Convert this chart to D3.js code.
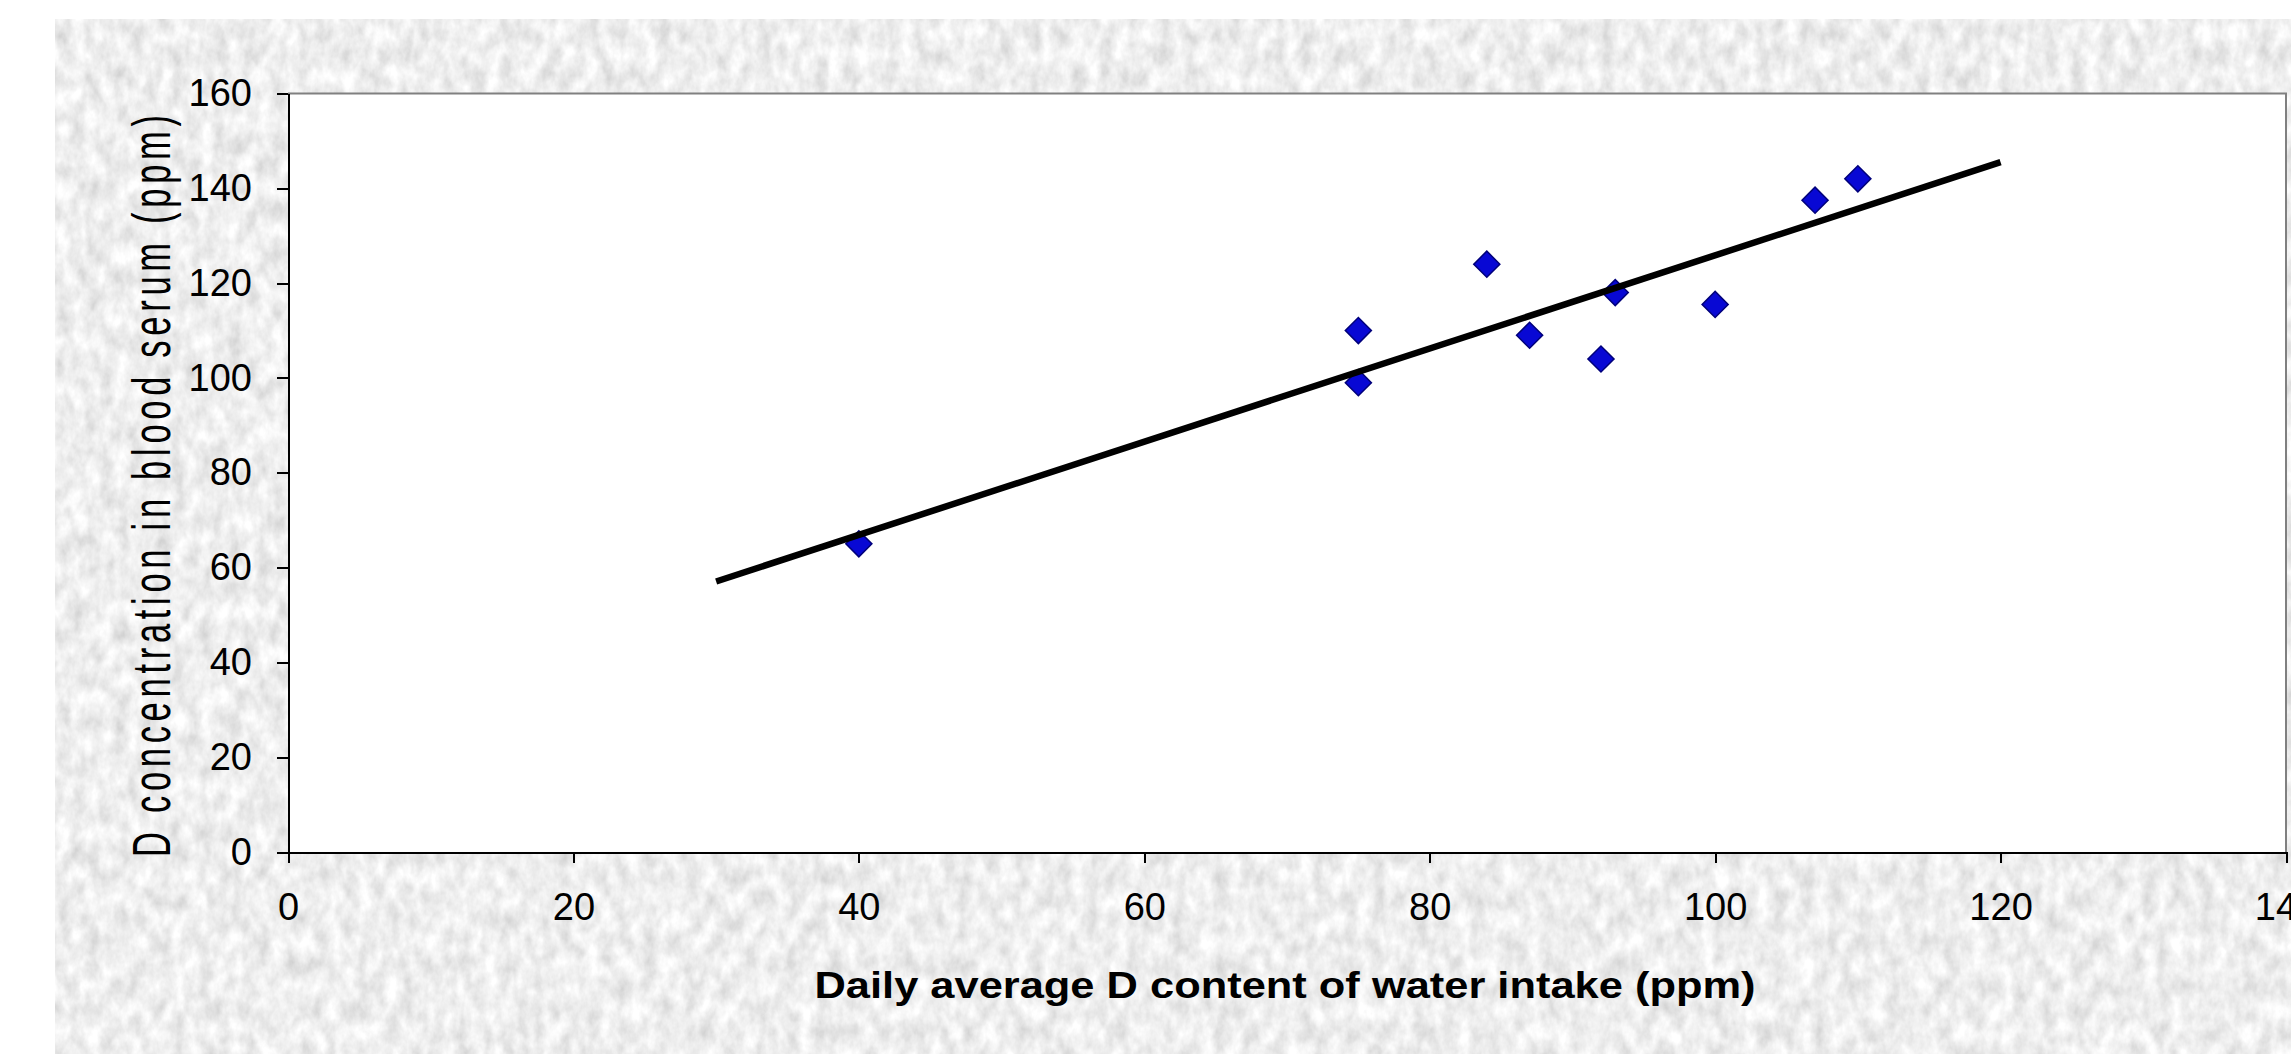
<!DOCTYPE html>
<html>
<head>
<meta charset="utf-8">
<title>D concentration in blood serum vs water intake</title>
<script src="https://cdn.jsdelivr.net/npm/d3@7"></script>
<style>
  html, body { margin: 0; padding: 0; background: #fff; }
  svg { display: block; font-family: "Liberation Sans", Arial, sans-serif; }
  .axis path, .axis line { stroke: #000; stroke-width: 2; shape-rendering: crispEdges; }
  .axis text { fill: #000; font-size: 38px; }
</style>
</head>
<body>
<div id="chart"></div>
<script>
// data
var intakeD = [40, 75, 75, 84, 87, 92, 93, 100, 107, 110];
var serumD = [65, 110, 99, 124, 109, 104, 118, 115.5, 137.5, 142];
var trendRange = [30, 120];
var xTicks = [0, 20, 40, 60, 80, 100, 120, 140];
var yTicks = [0, 20, 40, 60, 80, 100, 120, 140, 160];
var xTitle = 'Daily average D content of water intake (ppm)';
var yTitle = 'D concentration in blood serum (ppm)';

var width = 2291;
var height = 1054;

// plot area
var margin = { top: 93.5, right: 5, bottom: 202, left: 288 };
var w = width - margin.left - margin.right;
var h = height - margin.top - margin.bottom;

var xScale = d3.scaleLinear().domain([0, 140]).range([0, w]);
var yScale = d3.scaleLinear().domain([0, 160]).range([h, 0]);

var svg = d3.select('#chart').append('svg')
  .attr('width', width).attr('height', height);

// textured grey backdrop
var defs = svg.append('defs');
var f = defs.append('filter').attr('id', 'paper')
  .attr('x', 0).attr('y', 0).attr('width', 1).attr('height', 1);
f.append('feTurbulence').attr('type', 'fractalNoise')
  .attr('baseFrequency', '0.07 0.045').attr('numOctaves', 4).attr('seed', 5);
f.append('feColorMatrix').attr('type', 'matrix')
  .attr('values', '0.5 0 0 0 0.61  0.5 0 0 0 0.61  0.5 0 0 0 0.61  0 0 0 0 1');

svg.append('rect')
  .attr('x', 55).attr('y', 19)
  .attr('width', width - 55).attr('height', height - 19)
  .attr('fill', '#dadada')
  .attr('filter', 'url(#paper)');

var g = svg.append('g')
  .attr('transform', 'translate(' + margin.left + ',' + margin.top + ')');

// white plot area with grey top/right border
g.append('rect').attr('width', w).attr('height', h).attr('fill', '#fff');
g.append('path')
  .attr('d', 'M0,0H' + w + 'V' + h)
  .attr('fill', 'none').attr('stroke', '#808080').attr('stroke-width', 2);

// axes
g.append('g').attr('class', 'axis xaxis')
  .attr('transform', 'translate(0,' + h + ')')
  .call(d3.axisBottom(xScale).tickValues(xTicks).tickSize(11).tickSizeOuter(0).tickPadding(30));

g.append('g').attr('class', 'axis yaxis')
  .call(d3.axisLeft(yScale).tickValues(yTicks).tickSize(11).tickSizeOuter(0).tickPadding(25));

// data points (blue diamonds)
var pts = d3.zip(intakeD, serumD);
g.append('g').selectAll('path')
  .data(pts)
  .enter().append('path')
  .attr('d', d3.symbol().type(d3.symbolSquare).size(340))
  .attr('transform', function(d) {
    return 'translate(' + xScale(d[0]) + ',' + yScale(d[1]) + ') rotate(45)';
  })
  .attr('fill', '#0808d4')
  .attr('stroke', '#00007a')
  .attr('stroke-width', 1.5);

// linear trend line (least squares on the points)
var mx = d3.mean(intakeD);
var my = d3.mean(serumD);
var sxy = d3.sum(pts, function(d) { return (d[0] - mx) * (d[1] - my); });
var sxx = d3.sum(intakeD, function(v) { return (v - mx) * (v - mx); });
var slope = sxy / sxx;
var icpt = my - slope * mx;

var line = d3.line()
  .x(function(d) { return xScale(d); })
  .y(function(d) { return yScale(icpt + slope * d); });

g.append('path')
  .datum(trendRange)
  .attr('d', line)
  .attr('fill', 'none')
  .attr('stroke', '#000')
  .attr('stroke-width', 6.5);

// axis titles
svg.append('text')
  .attr('x', 1285).attr('y', 998)
  .attr('text-anchor', 'middle')
  .attr('font-size', 36)
  .attr('font-weight', 'bold')
  .attr('textLength', 941)
  .attr('lengthAdjust', 'spacingAndGlyphs')
  .text(xTitle);

svg.append('g')
  .attr('transform', 'translate(170,486) rotate(-90) scale(0.75,1.18)')
  .append('text')
  .attr('text-anchor', 'middle')
  .attr('font-size', 46)
  .attr('textLength', 742 / 0.75)
  .attr('lengthAdjust', 'spacing')
  .text(yTitle);
</script>
</body>
</html>
